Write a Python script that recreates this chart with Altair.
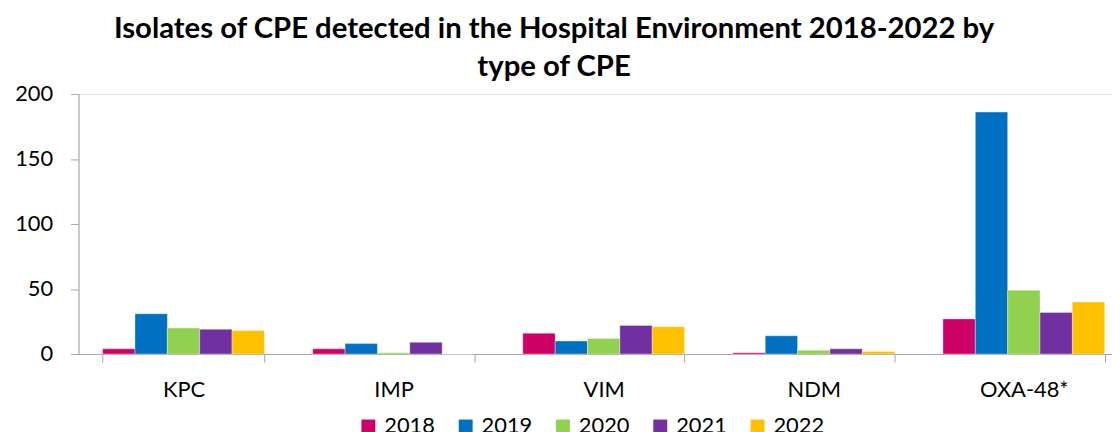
import altair as alt
import pandas as pd

categories = ["KPC", "IMP", "VIM", "NDM", "OXA-48*"]
years = ["2018", "2019", "2020", "2021", "2022"]
v2018 = [4, 4, 16, 1, 27]
v2019 = [31, 8, 10, 14, 186]
v2020 = [20, 1, 12, 3, 49]
v2021 = [19, 9, 22, 4, 32]
v2022 = [18, 0, 21, 2, 40]
colors = ["#CC0066", "#0070C0", "#92D050", "#7030A0", "#FFC000"]
y_ticks = [0, 50, 100, 150, 200]

series = [v2018, v2019, v2020, v2021, v2022]
rows = []
for yr, vals in zip(years, series):
    for cat, v in zip(categories, vals):
        rows.append({"Type": cat, "Year": yr, "Count": v})
df = pd.DataFrame(rows)

FONT = "Lato"

chart = alt.Chart(df).mark_bar(stroke="white", strokeWidth=0.6, strokeOpacity=0.6).encode(
    x=alt.X("Type:N", sort=categories,
            scale=alt.Scale(paddingInner=0.23, paddingOuter=0.115),
            axis=alt.Axis(title=None, labelAngle=0, labelFontSize=22, labelFont=FONT,
                          labelColor="black", domainColor="#A6A6A6", tickColor="#A6A6A6",
                          tickSize=8, tickBand="extent", labelPadding=18, grid=False)),
    xOffset=alt.XOffset("Year:N", sort=years, scale=alt.Scale(paddingInner=0, paddingOuter=0)),
    y=alt.Y("Count:Q", scale=alt.Scale(domain=[0, 200], nice=False),
            axis=alt.Axis(title=None, values=y_ticks, labelFontSize=22, labelFont=FONT,
                          labelColor="black", domainColor="#A6A6A6", tickColor="#A6A6A6",
                          tickSize=8, labelPadding=18, grid=False)),
    color=alt.Color("Year:N", sort=years, scale=alt.Scale(domain=years, range=colors),
                    legend=alt.Legend(title=None, orient="none", direction="horizontal",
                                      legendX=281, legendY=324, symbolType="square",
                                      symbolSize=196, symbolStrokeWidth=0,
                                      labelFontSize=22, labelFont=FONT, labelColor="black",
                                      labelOffset=5, columnPadding=19, padding=0)),
).properties(
    width=1058,
    height=262,
    autosize=alt.AutoSizeParams(type="none"),
    padding={"left": 71, "top": 85, "right": -17, "bottom": 77},
    title=alt.TitleParams(
        ["Isolates of CPE detected in the Hospital Environment 2018-2022 by", "type of CPE"],
        font=FONT, fontSize=29.5, fontWeight="bold", color="black",
        anchor="middle", dx=-50, offset=1, lineHeight=38),
).configure_view(stroke=None).configure(background="white")

chart.save("out.html", embed_options={"renderer": "svg", "actions": False})
